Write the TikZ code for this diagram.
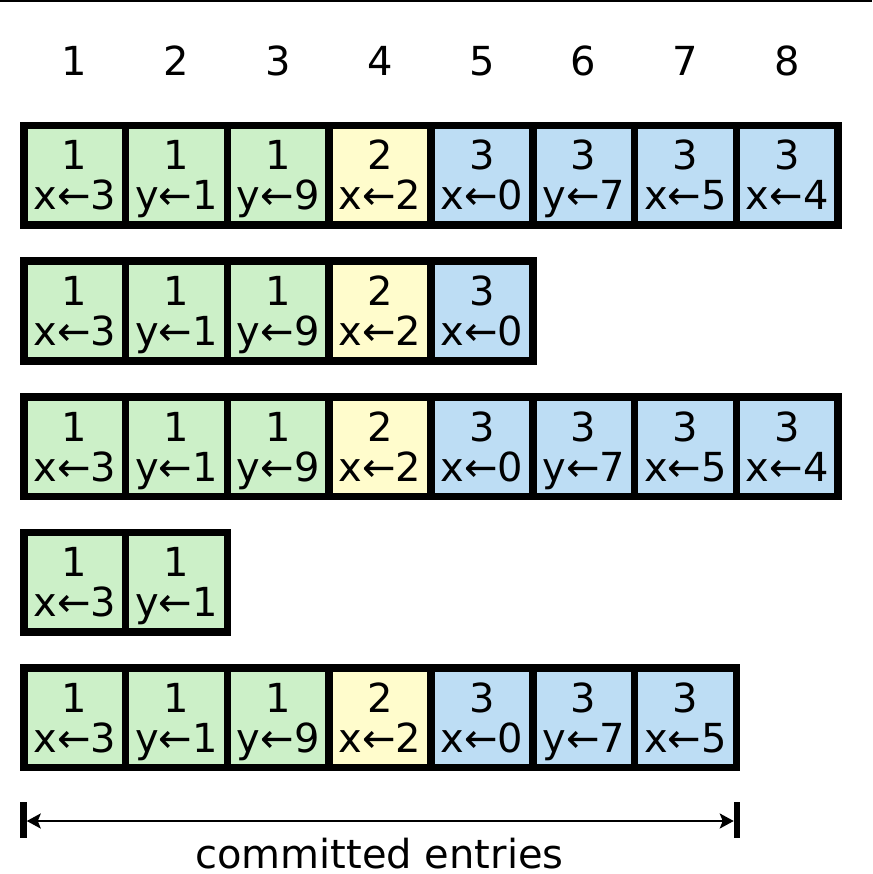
\documentclass[tikz,border=0pt]{standalone}
\usepackage{fontspec}
\setmainfont{DejaVu Sans}
\usetikzlibrary{arrows.meta}
\definecolor{col1}{RGB}{204,240,200}
\definecolor{col2}{RGB}{255,252,204}
\definecolor{col3}{RGB}{189,221,244}
\newcommand\cmdtxt[1]{\ifcase#1\or x←3\or y←1\or y←9\or x←2\or x←0\or y←7\or x←5\or x←4\fi}
\newcommand\termtxt[1]{\ifcase#1\or 1\or 1\or 1\or 2\or 3\or 3\or 3\or 3\fi}
\tikzset{
  cellbox/.style={draw=black, line width=7.5pt, rectangle, inner sep=0pt,
    minimum width=101.8pt, minimum height=99.5pt},
  celltext/.style={anchor=base, inner sep=0pt, font=\fontsize{40}{40}\selectfont},
  bar/.style={line width=6.5pt},
  span/.style={line width=2.4pt, {Stealth[length=14pt,width=15pt,inset=3pt]}-{Stealth[length=14pt,width=15pt,inset=3pt]}}
}
\begin{document}
\begin{tikzpicture}[x=1pt,y=-1pt]
\useasboundingbox (0,0) rectangle (872,874);
\fill[black] (0,0) rectangle (872,2.5);
% column numbers
\foreach \c in {1,...,8}{
  \node[celltext] (h\c) at ({23.75+(\c-0.5)*101.8},76) {\c};
}
% rows
\foreach \r/\n in {1/8,2/5,3/8,4/2,5/7}{
  \foreach \c in {1,...,\n}{
    \edef\t{\termtxt{\c}}
    \pgfmathsetmacro\cx{23.75+(\c-0.5)*101.8}
    \pgfmathsetmacro\cy{175.5+(\r-1)*135.5}
    \node[cellbox, fill=col\t] (c\r-\c) at (\cx,\cy) {};
    \node[celltext] (t\r-\c) at ([yshift=5.5pt]c\r-\c.center) {\t};
    \node[celltext] (m\r-\c) at ([yshift=-34.5pt]c\r-\c.center) {\cmdtxt{\c}};
  }
}
% committed entries
\coordinate (lt) at (23.5,802);
\coordinate (lb) at (23.5,838);
\coordinate (rt) at (737,802);
\coordinate (rb) at (737,838);
\coordinate (la) at (26.75,821);
\coordinate (ra) at (733.75,821);
\draw[bar] (lt) -- (lb);
\draw[bar] (rt) -- (rb);
\draw[span] (la) -- (ra);
\node[celltext] (lbl) at (379.5,868) {committed entries};
\end{tikzpicture}
\end{document}
